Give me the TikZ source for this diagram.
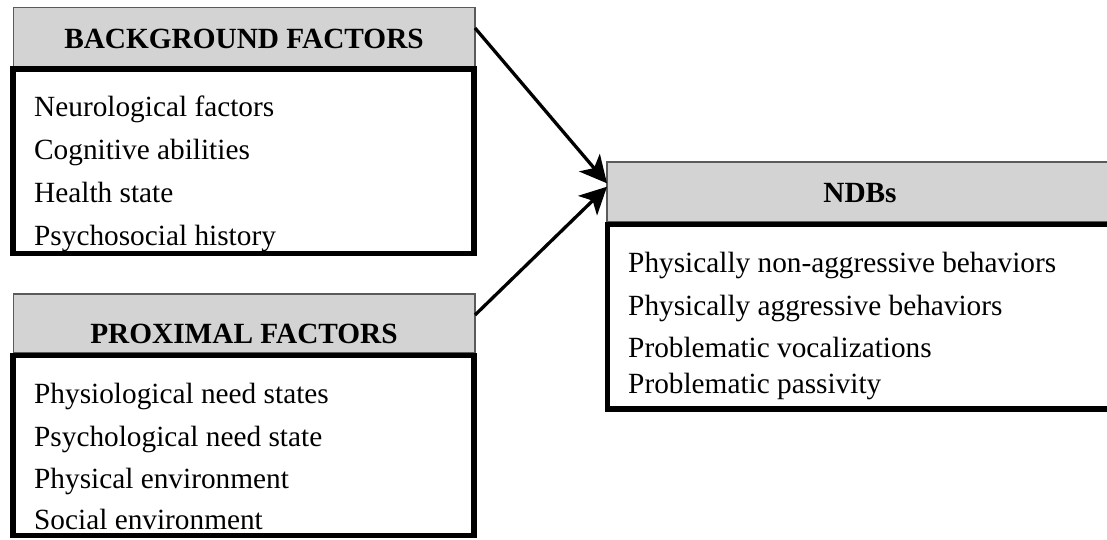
\documentclass[tikz,border=0pt]{standalone}
\usepackage{fontspec}
\setmainfont{Liberation Serif}
\usetikzlibrary{arrows.meta}
\definecolor{hdrgray}{RGB}{211,211,211}
\definecolor{hdredge}{RGB}{90,90,90}
\begin{document}
\begin{tikzpicture}[x=1pt,y=-1pt,
  hdr/.style={draw=hdredge, line width=1.3pt, fill=hdrgray, anchor=north west, inner sep=0pt, outer sep=0pt},
  bodybox/.style={draw=black, line width=5.5pt, anchor=north west, inner sep=0pt, outer sep=0pt},
  hdrtext/.style={font=\fontsize{29.3}{34}\selectfont\bfseries, anchor=base, inner sep=0pt},
  item/.style={font=\fontsize{29.3}{34}\selectfont, anchor=base west, inner sep=0pt},
  conn/.style={line width=3.3pt, -{Stealth[length=27pt,width=27pt,inset=7pt]}}]
\useasboundingbox (0,0) rectangle (1107,539);
\fill[white] (0,0) rectangle (1107,539);

% Background factors
\node[hdr, minimum width=461.5pt, minimum height=59pt] (bgh) at (13.5,7.5) {};
\node[bodybox, minimum width=461pt, minimum height=184.5pt] (bgb) at (13,69) {};
\node[hdrtext] (bgt) at (244,48) {BACKGROUND FACTORS};
\node[item] (bg1) at (34,116.7) {Neurological factors};
\node[item] (bg2) at (34,159.3) {Cognitive abilities};
\node[item] (bg3) at (34,202.5) {Health state};
\node[item] (bg4) at (34,245) {Psychosocial history};

% Proximal factors
\node[hdr, minimum width=461.5pt, minimum height=59pt] (pxh) at (13.5,294) {};
\node[bodybox, minimum width=461pt, minimum height=180pt] (pxb) at (13,355.5) {};
\node[hdrtext] (pxt) at (244,343) {PROXIMAL FACTORS};
\node[item] (px1) at (34,403.3) {Physiological need states};
\node[item] (px2) at (34,446) {Psychological need state};
\node[item] (px3) at (34,488.3) {Physical environment};
\node[item] (px4) at (34,529.3) {Social environment};

% NDBs
\node[hdr, minimum width=510pt, minimum height=60pt] (ndh) at (607,162) {};
\node[bodybox, minimum width=510pt, minimum height=184.5pt] (ndb) at (607.5,224.5) {};
\node[hdrtext] (ndt) at (860,202) {NDBs};
\node[item] (nd1) at (628,272) {Physically non-aggressive behaviors};
\node[item] (nd2) at (628,315) {Physically aggressive behaviors};
\node[item] (nd3) at (628,357.7) {Problematic vocalizations};
\node[item] (nd4) at (628,393) {Problematic passivity};

% connectors
\draw[conn] ([yshift=9pt]bgh.east) -- ([yshift=8.7pt]ndh.west);
\draw[conn] ([yshift=8.5pt]pxh.east) -- ([yshift=5.3pt]ndh.west);
\end{tikzpicture}
\end{document}
